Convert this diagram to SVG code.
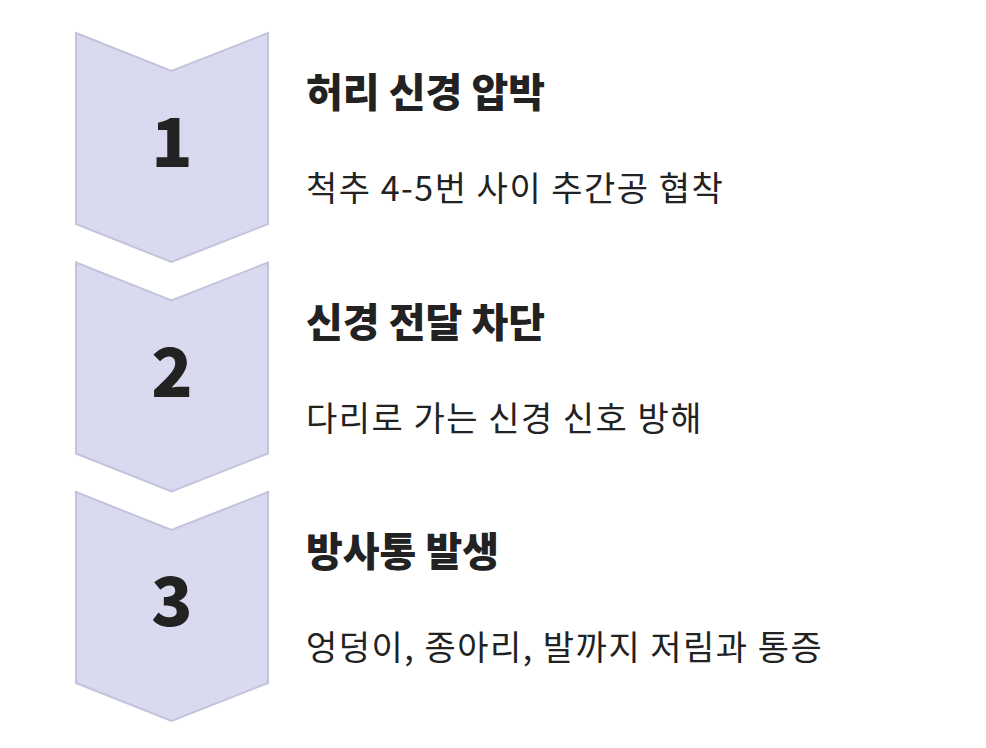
<svg xmlns="http://www.w3.org/2000/svg" width="986" height="748" viewBox="0 0 986 748">
<style>
.chev{fill:#d9d9ef;stroke:#c3c3dc;stroke-width:2;stroke-linejoin:miter}
.num{font-family:"Noto Sans CJK KR","Noto Sans",sans-serif;font-weight:900;font-size:68px;fill:#222;text-anchor:middle}
.title{font-family:"Noto Sans CJK KR",sans-serif;font-weight:900;font-size:40px;fill:#222}
.desc{font-family:"Noto Sans CJK KR",sans-serif;font-weight:400;font-size:34px;letter-spacing:1.5px;fill:#222}
</style>
<rect width="986" height="748" fill="#fff"/>
<g id="step1">
<path class="chev" d="M76,33 L171.5,71 L268,33 L268,224 L171.5,262 L76,224 Z"/>
<text class="num" x="172" y="167">1</text>
<text class="title" x="306" y="107">허리 신경 압박</text>
<text class="desc" x="306" y="201">척추 4-5번 사이 추간공 협착</text>
</g>
<g id="step2">
<path class="chev" d="M76,262.5 L171.5,300.5 L268,262.5 L268,453.5 L171.5,491.5 L76,453.5 Z"/>
<text class="num" x="172" y="396.5">2</text>
<text class="title" x="306" y="336.5">신경 전달 차단</text>
<text class="desc" x="306" y="430.5">다리로 가는 신경 신호 방해</text>
</g>
<g id="step3">
<path class="chev" d="M76,492 L171.5,530 L268,492 L268,683 L171.5,721 L76,683 Z"/>
<text class="num" x="172" y="626">3</text>
<text class="title" x="306" y="566">방사통 발생</text>
<text class="desc" x="306" y="660">엉덩이, 종아리, 발까지 저림과 통증</text>
</g>
<g id="connectors"></g>
</svg>
